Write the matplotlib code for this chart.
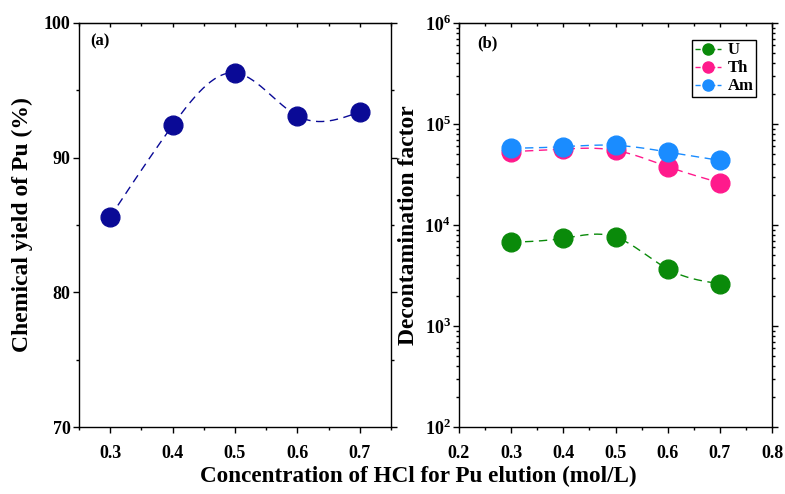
import matplotlib
matplotlib.use("Agg")
import matplotlib.pyplot as plt
import numpy as np
from matplotlib.ticker import MultipleLocator, FixedLocator, NullFormatter

plt.rcParams['font.family'] = 'Liberation Serif'
plt.rcParams['font.weight'] = 'bold'
plt.rcParams['axes.labelweight'] = 'bold'
plt.rcParams['mathtext.fontset'] = 'custom'
plt.rcParams['mathtext.rm'] = 'Liberation Serif:bold'
plt.rcParams['mathtext.bf'] = 'Liberation Serif:bold'

# data
conc = [0.3, 0.4, 0.5, 0.6, 0.7]           # HCl (mol/L)
pu_yield = [85.6, 92.4, 96.3, 93.1, 93.4]  # chemical yield of Pu (%)
df_U = [6740, 7380, 7600, 3670, 2620]
df_Th = [53200, 56500, 54800, 37800, 26200]
df_Am = [57400, 59600, 61500, 52800, 43600]


def spline(x, y, n=200):
    # natural cubic spline, used only to draw the smooth connecting line
    x = np.asarray(x, float)
    y = np.asarray(y, float)
    m = len(x)
    h = np.diff(x)
    A = np.zeros((m, m))
    r = np.zeros(m)
    A[0, 0] = A[-1, -1] = 1
    for i in range(1, m - 1):
        A[i, i - 1] = h[i - 1]
        A[i, i] = 2 * (h[i - 1] + h[i])
        A[i, i + 1] = h[i]
        r[i] = 6 * ((y[i + 1] - y[i]) / h[i] - (y[i] - y[i - 1]) / h[i - 1])
    M = np.linalg.solve(A, r)
    xs = np.linspace(x[0], x[-1], n)
    k = np.clip(np.searchsorted(x, xs) - 1, 0, m - 2)
    t = xs - x[k]
    hk = h[k]
    a = (M[k + 1] - M[k]) / (6 * hk)
    b = M[k] / 2
    c = (y[k + 1] - y[k]) / hk - hk * (2 * M[k] + M[k + 1]) / 6
    ys = y[k] + c * t + b * t ** 2 + a * t ** 3
    return xs, ys


fig = plt.figure(figsize=(7.85, 4.94), dpi=100)
ax1 = fig.add_axes([79 / 785, 1 - 427 / 494, 312 / 785, 404 / 494])
ax2 = fig.add_axes([459 / 785, 1 - 427 / 494, 313 / 785, 404 / 494])

# panel (a)
navy = '#0a0a96'
xs, ys = spline(conc, pu_yield)
ax1.plot(xs, ys, '--', color=navy, lw=1, dashes=(6, 4))
ax1.plot(conc, pu_yield, 'o', color=navy, ms=13.5, ls='none')
ax1.set_xlim(0.25, 0.75)
ax1.set_ylim(70, 100)
ax1.xaxis.set_major_locator(FixedLocator(conc))
ax1.xaxis.set_minor_locator(MultipleLocator(0.05))
ax1.yaxis.set_major_locator(MultipleLocator(10))
ax1.yaxis.set_minor_locator(MultipleLocator(5))
ax1.set_ylabel('Chemical yield of Pu (%)', fontsize=17, fontweight='bold', labelpad=8)
ax1.text(0.035, 0.975, '(a)', transform=ax1.transAxes, fontsize=12,
         fontweight='bold', va='top')

# panel (b)
series = [('U', df_U, '#0a8a0a'), ('Th', df_Th, '#ff1a8c'), ('Am', df_Am, '#1a8cff')]
for name, vals, col in series:
    xs, ys = spline(conc, np.log10(vals))
    ax2.plot(xs, 10 ** ys, '--', color=col, lw=1, dashes=(6, 4))
    ax2.plot(conc, vals, 'o', color=col, ms=13.5, ls='none')
    ax2.plot([], [], '--', marker='o', color=col, ms=8, lw=1, label=name)
ax2.set_yscale('log')
ax2.set_xlim(0.2, 0.8)
ax2.set_ylim(1e2, 1e6)
ax2.xaxis.set_major_locator(MultipleLocator(0.1))
ax2.xaxis.set_minor_locator(MultipleLocator(0.05))
ax2.set_yticks([1e2, 1e3, 1e4, 1e5, 1e6])
ax2.set_yticklabels([r'$10^{%d}$' % p for p in range(2, 7)])
ax2.yaxis.set_minor_formatter(NullFormatter())
ax2.set_ylabel('Decontamination factor', fontsize=17, fontweight='bold', labelpad=4)
ax2.text(0.058, 0.97, '(b)', transform=ax2.transAxes, fontsize=12,
         fontweight='bold', va='top')
leg = ax2.legend(loc='upper right', bbox_to_anchor=(0.95, 0.958),
                 prop={'size': 12, 'weight': 'bold'},
                 frameon=True, fancybox=False, edgecolor='black', framealpha=1,
                 handlelength=1.6, handletextpad=0.4, borderpad=0.15,
                 labelspacing=0.12, borderaxespad=0)
leg.get_frame().set_linewidth(1)

for ax in (ax1, ax2):
    for s in ax.spines.values():
        s.set_linewidth(1)
    ax.tick_params(which='both', direction='out', labelsize=13, width=1)
    ax.tick_params(which='major', length=4)
    ax.tick_params(which='minor', length=2.5)
    ax.tick_params(axis='x', pad=9)
    ax.tick_params(axis='y', pad=2)
    # inward ticks on top, no labels
    tw = ax.secondary_xaxis('top')
    tw.xaxis.set_major_locator(ax.xaxis.get_major_locator())
    tw.xaxis.set_minor_locator(ax.xaxis.get_minor_locator())
    tw.tick_params(which='both', direction='in', labeltop=False, width=1)
    tw.tick_params(which='major', length=3)
    tw.tick_params(which='minor', length=2)
    for lab in ax.get_xticklabels() + ax.get_yticklabels():
        lab.set_fontweight('bold')
ax1.tick_params(which='both', right=True, labelright=False)
ax2.tick_params(which='both', right=True, labelright=False)

fig.text(418 / 785, 0.025, 'Concentration of HCl for Pu elution (mol/L)', ha='center',
         fontsize=16.7, fontweight='bold')

fig.savefig('out.png', dpi=100)
